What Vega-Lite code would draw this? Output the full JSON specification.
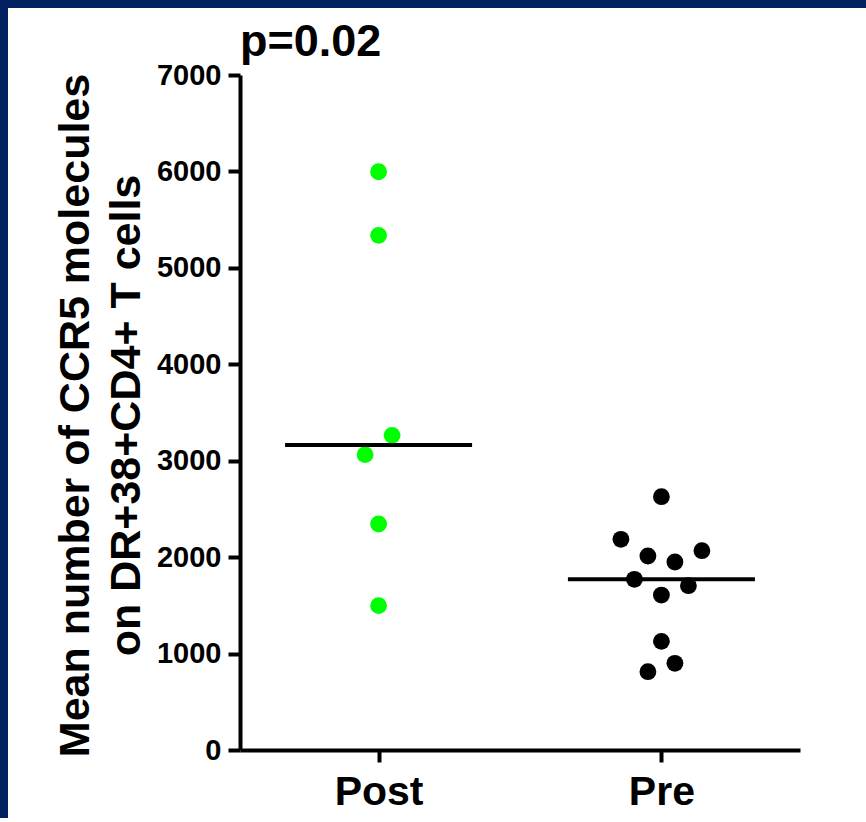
{
  "$schema": "https://vega.github.io/schema/vega-lite/v6.json",
  "padding": 0,
  "background": "white",
  "bounds": "flush",
  "spacing": 0,
  "config": {"view": {"stroke": null}, "font": "Liberation Sans"},
  "data": {
    "values": [
      {"group": "Post", "slot": 0, "value": 5997},
      {"group": "Post", "slot": 0, "value": 5337},
      {"group": "Post", "slot": 1, "value": 3263},
      {"group": "Post", "slot": -1, "value": 3063},
      {"group": "Post", "slot": 0, "value": 2344},
      {"group": "Post", "slot": 0, "value": 1497},
      {"group": "Pre", "slot": 0, "value": 2627},
      {"group": "Pre", "slot": -3, "value": 2185},
      {"group": "Pre", "slot": -1, "value": 2012},
      {"group": "Pre", "slot": 1, "value": 1950},
      {"group": "Pre", "slot": 3, "value": 2067},
      {"group": "Pre", "slot": -2, "value": 1770},
      {"group": "Pre", "slot": 0, "value": 1607},
      {"group": "Pre", "slot": 2, "value": 1704},
      {"group": "Pre", "slot": 0, "value": 1127},
      {"group": "Pre", "slot": 1, "value": 899},
      {"group": "Pre", "slot": -1, "value": 812}
    ]
  },
  "vconcat": [
    {
      "width": 866,
      "height": 4,
      "data": {"values": []},
      "mark": {"type": "point", "opacity": 0},
      "view": {"fill": "#002060", "stroke": null}
    },
    {
      "hconcat": [
        {
          "width": 8,
          "height": 814,
          "data": {"values": []},
          "mark": {"type": "point", "opacity": 0},
          "view": {"fill": "#002060", "stroke": null}
        },
        {
          "vconcat": [
            {
              "width": 560,
              "height": 1,
              "data": {"values": []},
              "mark": {"type": "point", "opacity": 0},
              "view": {"fill": null, "stroke": null}
            },
            {
              "width": 560,
              "height": 675,
              "title": {
                "text": "p=0.02",
                "anchor": "start",
                "frame": "group",
                "font": "Liberation Sans",
                "fontSize": 45,
                "fontWeight": "bold",
                "color": "black",
                "baseline": "alphabetic",
                "offset": 4,
                "dy": 44
              },
              "layer": [
                {
                  "mark": {"type": "point", "filled": true, "shape": "circle", "size": 283, "opacity": 1},
                  "encoding": {
                    "x": {
                      "field": "group",
                      "type": "nominal",
                      "scale": {"type": "point", "padding": 0.49},
                      "axis": {
                        "title": null,
                        "labelAngle": 0,
                        "labelFont": "Liberation Sans",
                        "labelFontSize": 41,
                        "labelFontWeight": "bold",
                        "labelColor": "black",
                        "labelBaseline": "alphabetic",
                        "labelPadding": 42,
                        "tickSize": 12,
                        "tickWidth": 4,
                        "tickColor": "black",
                        "domainWidth": 4,
                        "domainColor": "black",
                        "grid": false
                      }
                    },
                    "xOffset": {
                      "field": "slot",
                      "type": "quantitative",
                      "scale": {"domain": [-3, 3], "range": [-40.5, 40.5]}
                    },
                    "y": {
                      "field": "value",
                      "type": "quantitative",
                      "scale": {"domain": [0, 7000], "nice": false},
                      "axis": {
                        "title": ["Mean number of CCR5 molecules", "on DR+38+CD4+ T cells"],
                        "values": [0, 1000, 2000, 3000, 4000, 5000, 6000, 7000],
                        "format": "d",
                        "grid": false,
                        "tickSize": 12,
                        "tickWidth": 4,
                        "tickColor": "black",
                        "domainWidth": 4,
                        "domainColor": "black",
                        "labelFont": "Liberation Sans",
                        "labelFontSize": 29,
                        "labelFontWeight": "bold",
                        "labelColor": "black",
                        "labelPadding": 7,
                        "labelFlush": false,
                        "labelOverlap": false,
                        "titleFont": "Liberation Sans",
                        "titleFontSize": 43,
                        "titleFontWeight": "bold",
                        "titleColor": "black",
                        "titleLineHeight": 51,
                        "titleAngle": -90,
                        "titleAlign": "center",
                        "titleBaseline": "bottom",
                        "titleX": -143,
                        "titleY": 340
                      }
                    },
                    "color": {
                      "field": "group",
                      "type": "nominal",
                      "scale": {"domain": ["Post", "Pre"], "range": ["#00ff00", "#000000"]},
                      "legend": null
                    }
                  }
                },
                {
                  "mark": {"type": "tick", "size": 187, "thickness": 4, "color": "black", "opacity": 1},
                  "encoding": {
                    "x": {"field": "group", "type": "nominal"},
                    "y": {"aggregate": "median", "field": "value", "type": "quantitative"}
                  }
                }
              ]
            }
          ],
          "spacing": 70,
          "bounds": "flush"
        }
      ],
      "spacing": 232,
      "bounds": "flush"
    },
    {
      "width": 866,
      "height": 4,
      "data": {"values": []},
      "mark": {"type": "point", "opacity": 0},
      "view": {"fill": "#002060", "stroke": null}
    }
  ]
}
